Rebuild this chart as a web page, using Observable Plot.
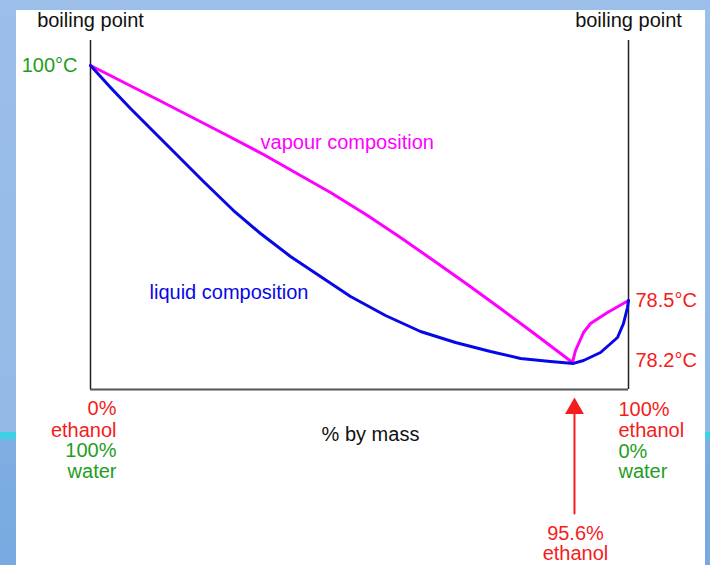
<!DOCTYPE html>
<html>
<head>
<meta charset="utf-8">
<script src="https://cdn.jsdelivr.net/npm/d3@7"></script>
<script src="https://cdn.jsdelivr.net/npm/@observablehq/plot@0.6"></script>
<style>
  html, body { margin: 0; padding: 0; }
  body {
    width: 710px; height: 565px; overflow: hidden; position: relative;
    background: linear-gradient(to bottom, #9bbfe8 0%, #93b9e6 76.5%, #3fd0e6 76.5%, #3fd0e6 77.7%, #7eaee2 77.7%, #78a9e0 100%);
    font-family: "Liberation Sans", Arial, sans-serif;
  }
  #panel { position: absolute; left: 16px; top: 10px; width: 689px; height: 555px; background: #fff; }
  #chart { position: absolute; left: 0; top: 0; }
</style>
</head>
<body>
<div id="panel"></div>
<div id="chart"></div>
<script>
// % ethanol by mass (schematic axis) and boiling temperature (°C)
const vapourX = [0, 12.45, 24.72, 32.16, 39.03, 44.61, 51.49, 57.62, 63.75, 70.07, 76.21, 82.71, 89.59, 90.15, 91.64, 92.94, 96.10, 100];
const vapourT = [100, 96.89, 93.78, 91.86, 89.94, 88.38, 86.28, 84.26, 82.16, 79.96, 78.46, 78.33, 78.19, 78.25, 78.34, 78.385, 78.44, 78.5];

const liquidX = [0, 3.72, 7.43, 11.15, 15.80, 21.00, 26.58, 31.60, 37.17, 42.75, 48.33, 54.83, 61.34, 67.84, 74.35, 79.93, 85.50, 89.78, 91.64, 94.80, 97.96, 99.07, 99.81, 100];
const liquidT = [100, 97.99, 96.07, 94.24, 91.95, 89.39, 86.73, 84.63, 82.53, 80.70, 78.87, 78.425, 78.345, 78.29, 78.245, 78.21, 78.195, 78.185, 78.2, 78.24, 78.315, 78.385, 78.465, 78.5];

const leftBoilingLabel = "100°C";
const leftBoilingTemp = 100;
const rightBoilingLabels = ["78.5°C", "78.2°C"];
const rightBoilingTemps = [78.5, 78.2];

const leftEndLines = ["0%", "ethanol", "100%", "water"];
const rightEndLines = ["100%", "ethanol", "0%", "water"];
const endLineKinds = ["ethanol", "ethanol", "water", "water"];

const azeotropeX = 89.96;
const azeotropeLines = ["95.6%", "ethanol"];

const RED = "#f41c1c", GREEN = "#1f9d1f", MAGENTA = "#ff00ff", BLUE = "#0808e6";
const kindColor = k => k === "ethanol" ? RED : GREEN;

const vapour = vapourX.map((x, i) => ({x, t: vapourT[i]}));
const liquid = liquidX.map((x, i) => ({x, t: liquidT[i]}));
const rightBoiling = rightBoilingLabels.map((label, i) => ({label, t: rightBoilingTemps[i]}));

const fs = 20;
const txt = {fontSize: fs, lineAnchor: "middle"};

const endMarks = [];
leftEndLines.forEach((text, i) => {
  endMarks.push(Plot.text([text], {...txt, x: 0, frameAnchor: "bottom", text: d => d, fill: kindColor(endLineKinds[i]), textAnchor: "end", dx: 26, dy: [19, 41, 61, 82][i]}));
});
rightEndLines.forEach((text, i) => {
  endMarks.push(Plot.text([text], {...txt, x: 100, frameAnchor: "bottom", text: d => d, fill: kindColor(endLineKinds[i]), textAnchor: "start", dx: -10, dy: [20, 41, 62, 82][i]}));
});
azeotropeLines.forEach((text, i) => {
  endMarks.push(Plot.text([text], {...txt, x: azeotropeX, frameAnchor: "bottom", text: d => d, fill: RED, dx: 1, dy: [144, 164][i]}));
});

const plot = Plot.plot({
  width: 710,
  height: 565,
  marginLeft: 90,
  marginRight: 82,
  marginTop: 40,
  marginBottom: 176,
  style: {background: "transparent", fontFamily: "'Liberation Sans', Arial, sans-serif", overflow: "visible"},
  x: {domain: [0, 100], axis: null},
  y: {type: "linear", domain: [78.05, 78.2, 78.5, 100], range: [389, 360, 300, 65], axis: null},
  marks: [
    Plot.ruleY([78.05], {x1: 0, x2: 100, stroke: "#555", strokeWidth: 2}),
    Plot.ruleX([0, 100], {stroke: "#222", strokeWidth: 1.5}),
    Plot.line(vapour, {x: "x", y: "t", stroke: MAGENTA, strokeWidth: 3}),
    Plot.line(liquid, {x: "x", y: "t", stroke: BLUE, strokeWidth: 3}),
    Plot.text([leftBoilingLabel], {...txt, x: 0, y: leftBoilingTemp, text: d => d, fill: GREEN, textAnchor: "end", dx: -13}),
    Plot.text(rightBoiling, {...txt, x: 100, y: "t", text: "label", fill: RED, textAnchor: "start", dx: 7}),
    Plot.text(["boiling point"], {...txt, x: 0, frameAnchor: "top", dy: -20, text: d => d, fill: "#111"}),
    Plot.text(["boiling point"], {...txt, x: 100, frameAnchor: "top", dy: -20, text: d => d, fill: "#111"}),
    Plot.text(["vapour composition"], {...txt, x: 31.6, y: 92.96, text: d => d, fill: MAGENTA, textAnchor: "start"}),
    Plot.text(["liquid composition"], {...txt, x: 10.97, y: 79.23, text: d => d, fill: BLUE, textAnchor: "start"}),
    Plot.text(["% by mass"], {...txt, x: 50, frameAnchor: "bottom", dx: 11, dy: 45, text: d => d, fill: "#111"}),
    ...endMarks,
    Plot.vector([azeotropeX], {x: d => d, frameAnchor: "bottom", dy: 124, anchor: "start", rotate: 0, length: 110, stroke: RED, strokeWidth: 2,
      shape: {draw(context, l) { context.moveTo(0, 0); context.lineTo(0, -l); }}}),
    Plot.dot([azeotropeX], {x: d => d, frameAnchor: "bottom", dy: 19, symbol: "triangle", r: 7, fill: RED, stroke: "none"})
  ]
});
document.getElementById("chart").appendChild(plot);
</script>
</body>
</html>
